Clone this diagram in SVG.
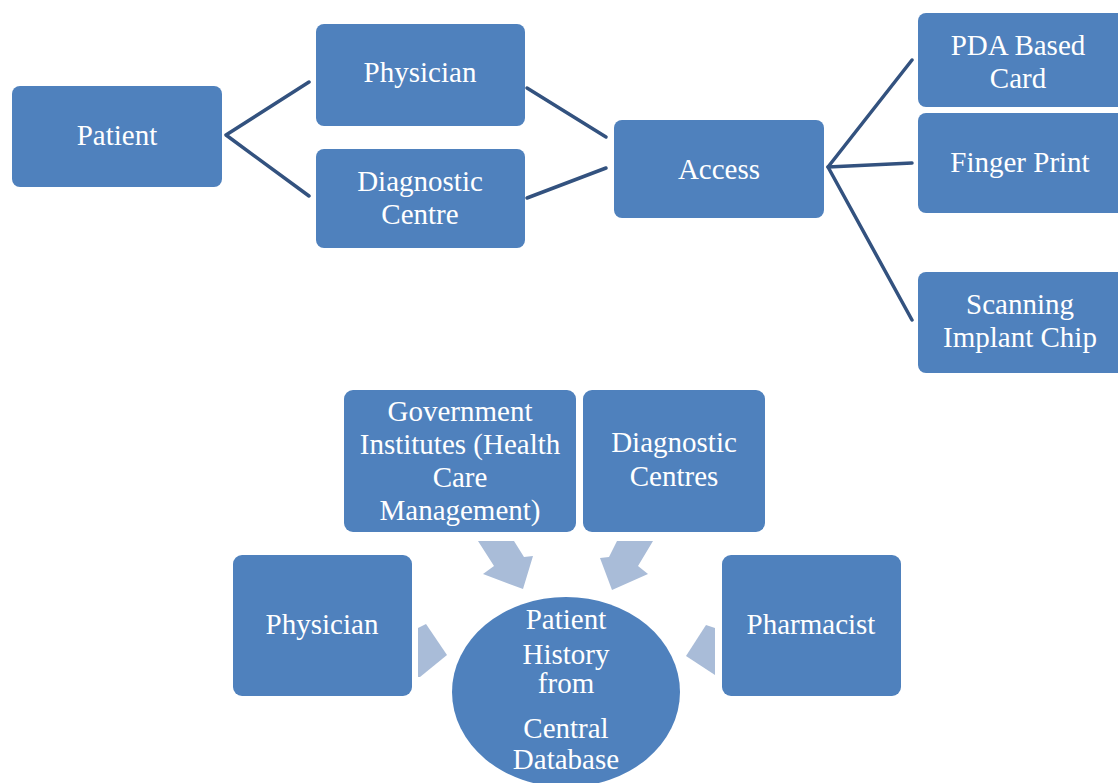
<svg xmlns="http://www.w3.org/2000/svg" width="1118" height="783" viewBox="0 0 1118 783">
<style>
.box{fill:#4f81bd;}
.t{font-family:'Liberation Serif','DejaVu Serif','Times New Roman',serif;font-size:29px;fill:#ffffff;text-anchor:middle;}
.ln{stroke:#33527f;stroke-width:3.5;fill:none;stroke-linecap:round;stroke-linejoin:round;}
.arr{fill:#a9bcd8;}
</style>
<rect width="1118" height="783" fill="#ffffff"/>
<g id="connectors">
<polyline class="ln" points="309,82 226,135 309,196"/>
<line class="ln" x1="527" y1="88" x2="606" y2="137"/>
<line class="ln" x1="527" y1="198" x2="606" y2="168"/>
<polyline class="ln" points="912,60 828,167 912,320"/>
<line class="ln" x1="828" y1="167" x2="912" y2="163"/>
<polygon class="arr" points="478,541 514,541 524,557 533,556 523,589 483,574 494,566"/>
<polygon class="arr" points="653,541 617,541 609,557 600,558 612,590 648,574 638,566"/>
<polygon class="arr" points="418,628 426,624 447,655 420,677 418,677"/>
<polygon class="arr" points="715,628 706,625 686,656 715,675"/>
</g>
<g id="patient"><rect class="box" x="12" y="86" width="210" height="101" rx="8"/><text class="t" x="117" y="145">Patient</text></g>
<g id="physician-top"><rect class="box" x="316" y="24" width="209" height="102" rx="8"/><text class="t" x="420" y="82">Physician</text></g>
<g id="diagnostic-centre"><rect class="box" x="316" y="149" width="209" height="99" rx="8"/><text class="t" x="420" y="191">Diagnostic</text><text class="t" x="420" y="224">Centre</text></g>
<g id="access"><rect class="box" x="614" y="120" width="210" height="98" rx="8"/><text class="t" x="719" y="179">Access</text></g>
<g id="pda"><rect class="box" x="918" y="13" width="208" height="94" rx="8"/><text class="t" x="1018" y="55">PDA Based</text><text class="t" x="1018" y="88">Card</text></g>
<g id="finger"><rect class="box" x="918" y="113" width="208" height="100" rx="8"/><text class="t" x="1020" y="172">Finger Print</text></g>
<g id="scanning"><rect class="box" x="918" y="272" width="208" height="101" rx="8"/><text class="t" x="1020" y="314">Scanning</text><text class="t" x="1020" y="347">Implant Chip</text></g>
<g id="government"><rect class="box" x="344" y="390" width="232" height="142" rx="9"/><text class="t" x="460" y="421">Government</text><text class="t" x="460" y="454">Institutes (Health</text><text class="t" x="460" y="487">Care</text><text class="t" x="460" y="520">Management)</text></g>
<g id="diagnostic-centres"><rect class="box" x="583" y="390" width="182" height="142" rx="9"/><text class="t" x="674" y="452">Diagnostic</text><text class="t" x="674" y="486">Centres</text></g>
<g id="physician-bottom"><rect class="box" x="233" y="555" width="179" height="141" rx="9"/><text class="t" x="322" y="634">Physician</text></g>
<g id="pharmacist"><rect class="box" x="722" y="555" width="179" height="141" rx="9"/><text class="t" x="811" y="634">Pharmacist</text></g>
<g id="patient-history"><ellipse class="box" cx="566" cy="692" rx="114" ry="95"/><text class="t" x="566" y="629">Patient</text><text class="t" x="566" y="664">History</text><text class="t" x="566" y="693">from</text><text class="t" x="566" y="738">Central</text><text class="t" x="566" y="769">Database</text></g>
</svg>
